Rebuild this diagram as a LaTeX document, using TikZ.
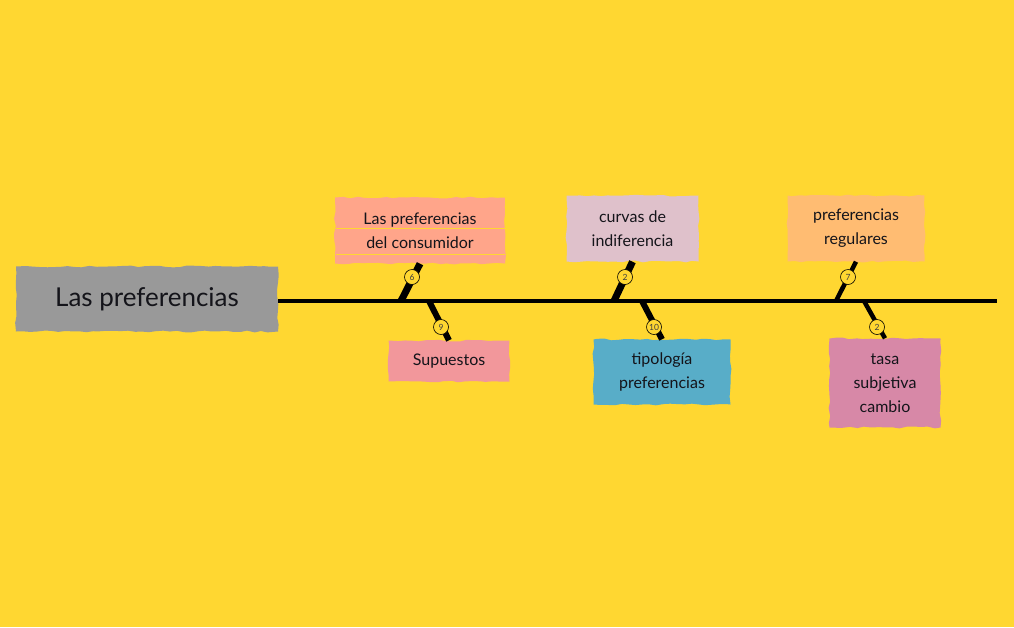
\documentclass[tikz,border=0pt]{standalone}
\usepackage{fontspec}
\setmainfont{Lato}[BoldFont={* Bold}]
\usetikzlibrary{decorations.pathmorphing}

\definecolor{bgyellow}{HTML}{FFD731}
\definecolor{boxgrey}{HTML}{999999}
\definecolor{boxsalmon}{HTML}{FFA58A}
\definecolor{boxmauve}{HTML}{DFC1CB}
\definecolor{boxorange}{HTML}{FFBC72}
\definecolor{boxrose}{HTML}{F2979B}
\definecolor{boxblue}{HTML}{58ADC8}
\definecolor{boxpink}{HTML}{D788A7}
\definecolor{inkblack}{HTML}{14141A}

\tikzset{
  roughbox/.style={decorate,decoration={random steps,segment length=7pt,amplitude=.9pt},
    inner sep=0pt,align=center,text=inkblack,font=\fontsize{16}{24}\selectfont},
  countmark/.style={circle,draw,line width=.6pt,fill=bgyellow,minimum size=15pt,inner sep=0pt,
    text=black!75,font=\fontsize{8.5}{10}\selectfont},
}

\begin{document}
\begin{tikzpicture}[x=1pt,y=-1pt]

        \useasboundingbox[fill=bgyellow] (0,0) rectangle (1014,627);
        \pgfmathsetseed{7}

        \begin{scope}[every node/.append style={roughbox}]
          \node[fill=boxgrey,minimum width=262pt,minimum height=65pt,font=\fontsize{26}{30}\selectfont] (main) at (147,299) {Las preferencias};
          \node[fill=boxsalmon,minimum width=170pt,minimum height=66pt] (consumidor) at (420,230.5) {Las preferencias\\del consumidor};
          \node[fill=boxmauve,minimum width=132pt,minimum height=66pt] (curvas) at (632.5,228.5) {curvas de\\indiferencia};
          \node[fill=boxorange,minimum width=137pt,minimum height=66pt] (regulares) at (856,228.5) {preferencias\\regulares};
          \node[fill=boxrose,minimum width=121pt,minimum height=41pt] (supuestos) at (449,361) {Supuestos};
          \node[fill=boxblue,minimum width=137pt,minimum height=65pt] (tipologia) at (662,372) {tipología\\preferencias};
          \node[fill=boxpink,minimum width=111pt,minimum height=89pt] (tasa) at (885,383) {tasa\\subjetiva\\cambio};
        \end{scope}

        % streaks in the salmon box
        \foreach \ypos in {228,254} {
          \draw[bgyellow,line width=.7pt] (336,\ypos) -- (505,\ypos);
        }

        % spine and its branches
        \coordinate (spinestart) at (main.east |- 0,301);
        \coordinate (spineend) at (997,301);
        \coordinate (top1) at (401,301);
        \coordinate (top2) at (614,301);
        \coordinate (top3) at (836,301);
        \coordinate (bot1) at (429,301);
        \coordinate (bot2) at (642,301);
        \coordinate (bot3) at (864,301);

        \draw[line width=4.5pt] (spinestart) -- (spineend);
        \draw[line width=7pt] (top1) -- (consumidor.south);
        \draw[line width=7pt] (top2) -- (curvas.south);
        \draw[line width=4.5pt] (top3) -- (regulares.south);
        \draw[line width=6pt] (bot1) -- (supuestos.north);
        \draw[line width=6pt] (bot2) -- (tipologia.north);
        \draw[line width=4.5pt] (bot3) -- (tasa.north);

        \begin{scope}[every node/.append style={countmark}]
          \node (n1) at (412,277) {6};
          \node (n2) at (625,277) {2};
          \node (n3) at (848,277) {7};
          \node (n4) at (441,327) {9};
          \node (n5) at (654,327) {10};
          \node (n6) at (877,327) {2};
        \end{scope}

      \end{tikzpicture}
\end{document}
